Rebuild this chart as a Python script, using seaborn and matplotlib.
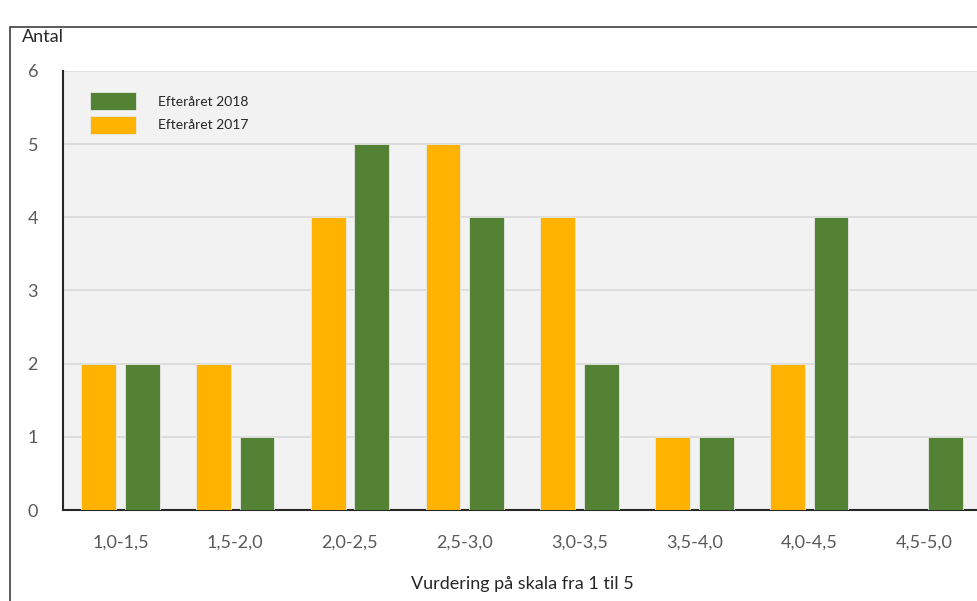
import pandas as pd
import matplotlib
matplotlib.use('Agg')
import matplotlib.pyplot as plt
from matplotlib.patches import Rectangle
import seaborn as sns

# data
categories = ['1,0-1,5', '1,5-2,0', '2,0-2,5', '2,5-3,0', '3,0-3,5', '3,5-4,0', '4,0-4,5', '4,5-5,0']
values_2017 = [2, 2, 4, 5, 4, 1, 2, 0]
values_2018 = [2, 1, 5, 4, 2, 1, 4, 1]
series = ['Efteråret 2017', 'Efteråret 2018']
colors = {'Efteråret 2017': '#FFB300', 'Efteråret 2018': '#548235'}

df = pd.DataFrame({
    'kategori': categories * 2,
    'antal': values_2017 + values_2018,
    'serie': [series[0]] * len(categories) + [series[1]] * len(categories),
})

sns.set_style('white')
plt.rcParams['font.family'] = ['Lato', 'DejaVu Sans']

fig = plt.figure(figsize=(9.77, 6.01), dpi=100)
ax = fig.add_axes([0.0645, 0.1514, 0.94, 0.7305])

sns.barplot(data=df, x='kategori', y='antal', hue='serie', hue_order=series,
            palette=colors, saturation=1, width=0.76, gap=0.2, ax=ax, legend=True,
            edgecolor='#E8E8E8', linewidth=0.6, zorder=3)

ax.set_facecolor('#F2F2F2')
ax.set_ylim(0, 6)
ax.set_xlim(-0.5, len(categories) - 0.5)
ax.set_yticks(range(0, 7))
ax.grid(axis='y', color='#D9D9D9', linewidth=1.2, zorder=0)
ax.set_axisbelow(True)
for s in ['top', 'right']:
    ax.spines[s].set_visible(False)
ax.spines['left'].set_color('#262626')
ax.spines['left'].set_linewidth(1.5)
ax.spines['bottom'].set_color('#262626')
ax.spines['bottom'].set_linewidth(1.5)

ax.tick_params(axis='x', length=0, pad=18, labelsize=13, labelcolor='#595959')
ax.tick_params(axis='y', length=0, pad=18, labelsize=13, labelcolor='#595959')
ax.set_xlabel('Vurdering på skala fra 1 til 5', fontsize=13, color='#262626', labelpad=18)
ax.set_ylabel('')

# legend with 2018 first
handles, labels = ax.get_legend_handles_labels()
order = [labels.index(series[1]), labels.index(series[0])]
ax.legend([handles[i] for i in order], [labels[i] for i in order],
          loc='upper left', bbox_to_anchor=(0.016, 0.98), frameon=False,
          fontsize=10, handlelength=3.3, handleheight=1.6, handletextpad=1.6,
          labelspacing=0.4)

fig.text(0.0225, 0.938, 'Antal', fontsize=13, color='#262626', va='center')

# chart frame
fig.patches.append(Rectangle((0.0102, -0.01), 1.1, 0.965, transform=fig.transFigure,
                             fill=False, edgecolor='#404040', linewidth=1.2))

fig.savefig('out.png', dpi=100)
